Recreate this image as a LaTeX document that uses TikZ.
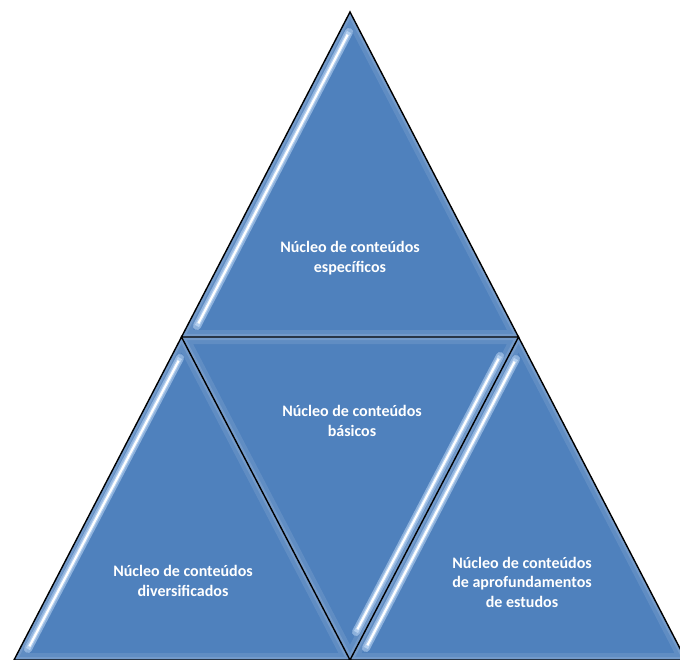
\documentclass[tikz,border=0pt]{standalone}
\usepackage{fontspec}
\setmainfont{Carlito}
\usetikzlibrary{calc}
\definecolor{tblue}{RGB}{79,129,189}
\definecolor{glowblue}{RGB}{190,215,245}
\tikzset{
  triline/.style={draw=black, line width=1.4pt, line join=miter},
  bevelwide/.style={draw=white, opacity=0.10, line width=14pt},
  bevelnarrow/.style={draw=white, opacity=0.12, line width=6pt},
  hlglow/.style={draw=glowblue, opacity=0.55, line width=8pt, line cap=round},
  hlmid/.style={draw=glowblue, opacity=0.8, line width=4.5pt},
  hlcore/.style={draw=white, line width=2.2pt},
  lbl/.style={text=white, align=center, font=\fontsize{16}{19.5}\selectfont\bfseries, inner sep=0pt}
}
\begin{document}
\begin{tikzpicture}[x=1pt,y=-1pt]
\useasboundingbox (0,0) rectangle (680,659);
\begin{scope}
\clip (0,0) rectangle (680,659);
\coordinate (A) at (350,12);
\coordinate (L) at (181.5,337);
\coordinate (R) at (518.5,337);
\coordinate (BL) at (14,660);
\coordinate (BM) at (350,660);
\coordinate (BR) at (686,660);
% fills
\fill[tblue] (A)--(L)--(R)--cycle;
\fill[tblue] (L)--(BL)--(BM)--cycle;
\fill[tblue] (L)--(R)--(BM)--cycle;
\fill[tblue] (R)--(BM)--(BR)--cycle;
% bevels
\begin{scope}\clip (A)--(L)--(R)--cycle;
\draw[bevelwide] (A)--(L)--(R)--cycle; \draw[bevelnarrow] (A)--(L)--(R)--cycle;\end{scope}
\begin{scope}\clip (L)--(BL)--(BM)--cycle;
\draw[bevelwide] (L)--(BL)--(BM)--cycle; \draw[bevelnarrow] (L)--(BL)--(BM)--cycle;\end{scope}
\begin{scope}\clip (L)--(R)--(BM)--cycle;
\draw[bevelwide] (L)--(R)--(BM)--cycle; \draw[bevelnarrow] (L)--(R)--(BM)--cycle;\end{scope}
\begin{scope}\clip (R)--(BM)--(BR)--cycle;
\draw[bevelwide] (R)--(BM)--(BR)--cycle; \draw[bevelnarrow] (R)--(BM)--(BR)--cycle;\end{scope}
% highlights
\coordinate (h1a) at (349,32); \coordinate (h1b) at (197,326);
\coordinate (h2a) at (180,358); \coordinate (h2b) at (28,649);
\coordinate (h3a) at (500,356); \coordinate (h3b) at (356,632);
\coordinate (h4a) at (516,359); \coordinate (h4b) at (366,648);
\foreach \p/\q in {h1a/h1b,h2a/h2b,h3a/h3b,h4a/h4b}{
  \draw[hlglow] (\p)--(\q);
  \draw[hlmid] (\p)--(\q);
  \draw[hlcore] ($(\p)!3pt!(\q)$)--($(\q)!3pt!(\p)$);
}
% outlines
\draw[triline] (A)--(L)--(R)--cycle;
\draw[triline] (L)--(BL)--(BM)--cycle;
\draw[triline] (R)--(BM)--(BR)--cycle;
\end{scope}
% labels
\node[lbl] (t1) at (350,258) {Núcleo de conteúdos\\específicos};
\node[lbl] (t2) at (352,421) {Núcleo de conteúdos\\básicos};
\node[lbl] (t3) at (183,581) {Núcleo de conteúdos\\diversificados};
\node[lbl] (t4) at (522,582) {Núcleo de conteúdos\\de aprofundamentos\\de estudos};
\end{tikzpicture}
\end{document}
